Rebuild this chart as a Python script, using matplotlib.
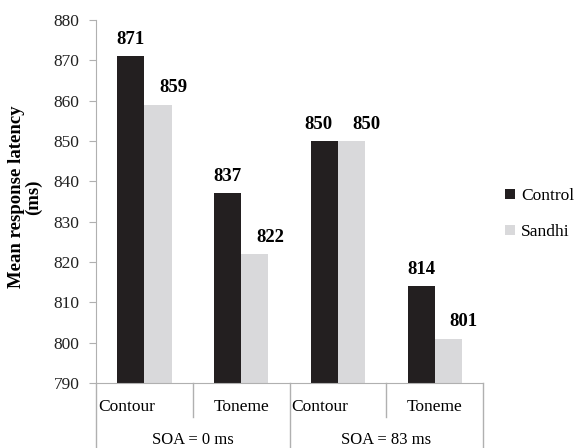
import numpy as np
import matplotlib.pyplot as plt
import matplotlib.transforms as mtransforms

plt.rcParams['font.family'] = ['Liberation Serif', 'DejaVu Serif']

conditions = ['Contour', 'Toneme', 'Contour', 'Toneme']
soa_groups = ['SOA = 0 ms', 'SOA = 83 ms']
control = [871, 837, 850, 814]
sandhi = [859, 822, 850, 801]
series_names = ['Control', 'Sandhi']

fig = plt.figure(figsize=(5.77, 4.48), dpi=100)
ax = fig.add_axes([0.1664, 0.1451, 0.671, 0.810])

x = np.arange(len(conditions))
w = 0.28
ax.bar(x - w / 2, control, w, bottom=0, color='#231f20', label=series_names[0])
ax.bar(x + w / 2, sandhi, w, bottom=0, color='#d9d9db', label=series_names[1])

# value labels (grey ones sit a bit to the right, like the original)
black_shift = [0, 0, -4, 0]
for xi, v, dx in zip(x - w / 2, control, black_shift):
    ax.annotate(str(v), (xi, v), xytext=(dx, 6), textcoords='offset points',
                ha='center', va='bottom', fontsize=13.5, fontweight='bold')
for xi, v in zip(x + w / 2, sandhi):
    ax.annotate(str(v), (xi, v), xytext=(11, 6), textcoords='offset points',
                ha='center', va='bottom', fontsize=13.5, fontweight='bold')

ax.set_ylim(790, 880)
ax.set_yticks(np.arange(790, 881, 10))
ax.set_xlim(-0.5, 3.5)
ax.set_xticks([])
ax.tick_params(axis='y', labelsize=12.5, length=5, color='#b0b0b0', pad=7, labelcolor='#222222')

for s in ['top', 'right']:
    ax.spines[s].set_visible(False)
ax.spines['left'].set_color('#b0b0b0')
ax.spines['bottom'].set_color('#b0b0b0')

fig.text(25 / 577, 1 - 197 / 448, 'Mean response latency\n(ms)', rotation=90,
         ha='center', va='center', fontsize=13.5, fontweight='bold', linespacing=1.05)

# category axis with grouped labels
trans = mtransforms.blended_transform_factory(ax.transData, ax.transAxes)
bottom = -0.18
for xs in [-0.5, 1.5, 3.5]:
    ax.plot([xs, xs], [0, bottom], transform=trans, color='#b0b0b0', lw=1, clip_on=False)
for xs in [0.5, 2.5]:
    ax.plot([xs, xs], [0, -0.094], transform=trans, color='#b0b0b0', lw=1, clip_on=False)
for xi, lab in zip(x, conditions):
    if lab == 'Contour':
        ax.text(xi - 0.48, -0.066, lab, transform=trans, ha='left', va='center', fontsize=12.5)
    else:
        ax.text(xi, -0.066, lab, transform=trans, ha='center', va='center', fontsize=12.5)
for gi, lab in enumerate(soa_groups):
    ax.text(gi * 2 + 0.5, -0.156, lab, transform=trans, ha='center', va='center', fontsize=12)

ax.legend(loc='center left', bbox_to_anchor=(1.057, 0.466), frameon=False, fontsize=12.5,
          handlelength=0.55, handleheight=0.55, handletextpad=0.35, labelspacing=1.15,
          borderpad=0, borderaxespad=0)

fig.savefig('out.png', dpi=100)
